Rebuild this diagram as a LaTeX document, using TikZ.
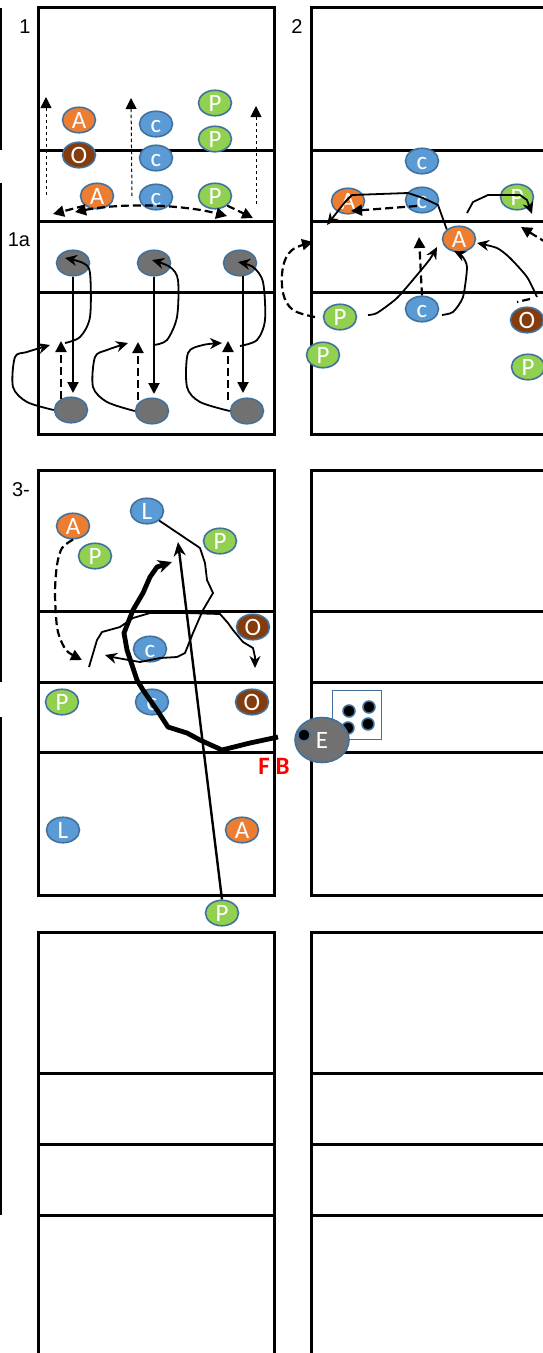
\documentclass[tikz,border=0pt]{standalone}
\usepackage{fontspec}
\setmainfont{Liberation Sans}
\newfontfamily\calfont{Carlito}
\usepackage{xcolor}
\usepackage{tikz}
\usetikzlibrary{
  arrows.meta,
  positioning,
  shapes.geometric
}
\definecolor{orng}{HTML}{ED7D31}
\definecolor{blu}{HTML}{5B9BD5}
\definecolor{grn}{HTML}{92D050}
\definecolor{brwn}{HTML}{843C0C}
\definecolor{gry}{HTML}{717171}
\definecolor{edge}{HTML}{41719C}

\begin{document}
\begin{tikzpicture}[x=1pt, y=-1pt,
  field/.style={line width=3pt},
  bar/.style={line width=2pt},
  lbl/.style={font=\fontsize{20}{20}\selectfont},
  player/.style={ellipse, draw=edge, line width=1.6pt, minimum width=33pt, minimum height=25.5pt,
    inner sep=0pt, text=white, text height=16pt, text depth=0pt, font=\calfont\fontsize{25}{25}\selectfont},
  dot/.style={circle, draw=edge, line width=1.5pt, fill=black, minimum size=12pt, inner sep=0pt},
  thindash/.style={line width=1pt, dash pattern=on 3.5pt off 2.5pt, -{Triangle[length=11pt,width=11pt]}},
  thickdash/.style={line width=2.2pt, dash pattern=on 8pt off 4pt, -{Triangle[length=11pt,width=11pt]}},
  tri/.style={line width=2pt, -{Triangle[length=11pt,width=11pt]}},
  run/.style={line width=1.8pt, line join=round, -{Stealth[length=12pt,width=11pt]}},
  heavy/.style={line width=4.8pt, line join=round, -{Stealth[length=14pt,width=13pt]}}]

  \clip (0,0) rectangle (543,1353);

  % fields
  \draw[field] (38,7) rectangle (274,434);
  \draw[field] (38,150) -- (274,150) (38,221) -- (274,221) (38,292) -- (274,292);
  \draw[field] (311,7) rectangle (560,434);
  \draw[field] (311,150) -- (560,150) (311,221) -- (560,221) (311,292) -- (560,292);
  \draw[field] (38,470) rectangle (274,895);
  \draw[field] (38,611) -- (274,611) (38,682) -- (274,682) (38,752) -- (274,752);
  \draw[field] (311,470) rectangle (560,895);
  \draw[field] (311,611) -- (560,611) (311,682) -- (560,682) (311,752) -- (560,752);
  \draw[field] (38,1360) -- (38,932) -- (274,932) -- (274,1360);
  \draw[field] (38,1073) -- (274,1073) (38,1144) -- (274,1144) (38,1215) -- (274,1215);
  \draw[field] (311,1360) -- (311,932) -- (560,932);
  \draw[field] (311,1073) -- (560,1073) (311,1144) -- (560,1144) (311,1215) -- (560,1215);

  \draw[bar] (1,8) -- (1,150);
  \draw[bar] (1,183) -- (1,682);
  \draw[bar] (1,717) -- (1,1215);

  \node[lbl] (n1) at (25,27) {1};
  \node[lbl] (n2) at (297,27) {2};
  \node[lbl] (n1a) at (19,240) {1a};
  \node[lbl] (n3) at (21,490) {3-};

  % drill 1
  \node[player, fill=orng] (a1) at (79,120) {A};
  \node[player, fill=brwn] (o1) at (79,155) {O};
  \node[player, fill=blu] (c1) at (156,124) {c};
  \node[player, fill=blu] (c2) at (156,158) {c};
  \node[player, fill=blu] (c3) at (156,197) {c};
  \node[player, fill=orng] (a2) at (97,196) {A};
  \node[player, fill=grn] (p1) at (215,103) {P};
  \node[player, fill=grn] (p2) at (215,139) {P};
  \node[player, fill=grn] (p3) at (215,196) {P};

  \coordinate (f1) at (46,97);
  \coordinate (f2) at (131,98);
  \coordinate (f3) at (256,106);
  \draw[thindash] (46,195) -- (f1);
  \draw[thindash] (132,196) -- (f2);
  \draw[thindash] (256,204) -- (f3);
  \draw[thickdash] (a2.south west) -- (53,214);
  \draw[thickdash, {Triangle[length=11pt,width=11pt]}-{Triangle[length=11pt,width=11pt]}]
    (75,212) .. controls (120,203) and (180,204) .. (227,216);
  \draw[thickdash] (p3.south east) -- (253,218);

  % drill 1a
  \node[player, fill=gry] (t1) at (73,263) {};
  \node[player, fill=gry] (t2) at (154,263) {};
  \node[player, fill=gry] (t3) at (240,263) {};
  \node[player, fill=gry] (b1) at (71,410) {};
  \node[player, fill=gry] (b2) at (152,411) {};
  \node[player, fill=gry] (b3) at (247,411) {};

  \draw[tri] (t1.south) -- (73,393);
  \draw[tri] (t2.south) -- (154,394);
  \draw[tri] (243,276) -- (243,393);
  \draw[thickdash] (61,399) -- (61,341);
  \draw[thickdash] (138,400) -- (138,342);
  \draw[thickdash] (228,400) -- (228,341);

  \draw[run] plot[smooth, tension=0.5] coordinates {(65,343) (80,337) (90,317) (90,273) (83,263) (65,258)};
  \draw[run] plot[smooth, tension=0.5] coordinates {(154,345) (167,340) (177,317) (178,280) (170,267) (152,260)};
  \draw[run] plot[smooth, tension=0.5] coordinates {(240,346) (257,340) (265,320) (263,282) (253,267) (238,262)};
  \draw[run] plot[smooth, tension=0.5] coordinates {(b1.west) (27,402) (13,387) (15,357) (27,352) (50,345)};
  \draw[run] plot[smooth, tension=0.5] coordinates {(b2.west) (107,402) (93,387) (95,357) (107,350) (128,343)};
  \draw[run] plot[smooth, tension=0.5] coordinates {(b3.west) (200,402) (187,387) (188,353) (203,345) (222,343)};

  % drill 2
  \node[player, fill=blu] (c4) at (422,161) {c};
  \node[player, fill=blu] (c5) at (422,200) {c};
  \node[player, fill=orng] (a3) at (348,201) {A};
  \node[player, fill=grn] (p4) at (517,197) {P};
  \node[player, fill=orng] (a4) at (459,239) {A};
  \node[player, fill=blu] (c6) at (422,309) {c};
  \node[player, fill=grn] (p5) at (340,317) {P};
  \node[player, fill=grn] (p6) at (323,355) {P};
  \node[player, fill=brwn] (o2) at (527,320) {O};
  \node[player, fill=grn] (p7) at (528,367) {P};

  \draw[run] (a4.north west) -- (438,205) -- (423,198) -- (408,193) -- (352,195) -- (345,202) -- (327,225);
  \draw[thickdash] (417,206) -- (351,211);
  \draw[run] (467,213) -- (473,202) -- (488,195) -- (520,195) -- (527,200) -- (532,214);
  \draw[thickdash] (547,243) -- (521,227);
  \draw[thickdash] (c6.north) -- (419,237);
  \draw[run] plot[smooth, tension=0.4] coordinates {(368,315) (377,313) (397,298) (417,275) (430,259) (437,247)};
  \draw[run] plot[smooth, tension=0.4] coordinates {(442,315) (453,312) (463,297) (467,267) (462,256) (454,251)};
  \draw[run] plot[smooth, tension=0.4] coordinates {(537,297) (527,277) (510,258) (497,248) (477,243)};
  \draw[line width=2.2pt, dash pattern=on 8pt off 4pt] (530,299) -- (517,302);
  \draw[thickdash] plot[smooth, tension=0.6] coordinates {(315,317) (293,310) (283,293) (283,267) (292,250) (313,242)};

  % drill 3
  \node[player, fill=blu] (l1) at (147,511) {L};
  \node[player, fill=orng] (a5) at (73,526) {A};
  \node[player, fill=grn] (p8) at (95,556) {P};
  \node[player, fill=grn] (p9) at (220,541) {P};
  \node[player, fill=brwn] (o3) at (253,627) {O};
  \node[player, fill=blu] (c7) at (150,649) {c};
  \node[player, fill=grn] (p10) at (62,702) {P};
  \node[player, fill=blu] (c8) at (152,702) {c};
  \node[player, fill=brwn] (o4) at (252,702) {O};
  \node[player, fill=blu] (l2) at (63,830) {L};
  \node[player, fill=orng] (a6) at (242,830) {A};
  \node[player, fill=grn] (p11) at (222,913) {P};

  \node[draw=edge, line width=1.8pt, fill=white, minimum size=49pt, inner sep=0pt] (pod) at (357,715) {};
  \node[dot] (d1) at (349,711) {};
  \node[dot] (d2) at (369,707) {};
  \node[dot] (d3) at (348,728) {};
  \node[dot] (d4) at (368,724) {};
  \node[player, fill=gry, minimum width=54pt, minimum height=45pt] (e) at (322,740) {E};
  \node[dot] (d5) at (304,735) {};
  \node[text=red, font=\calfont\bfseries\fontsize{25}{25}\selectfont] (fb) at (274,766) {F B};

  \draw[thickdash] plot[smooth, tension=0.5] coordinates {(a5.south) (62,548) (57,565) (55,593) (57,627) (62,643) (68,652) (82,660)};
  \draw[run] (l1.south east) -- (200,548) -- (205,563) -- (207,580) -- (213,593) -- (203,610) -- (193,633)
    -- (185,653) -- (177,657) -- (160,658) -- (140,662) -- (123,659) -- (112,657) -- (105,655);
  \draw[run] (89,667) -- (97,640) -- (102,632) -- (120,627) -- (133,618) -- (150,613) -- (187,613) -- (220,614)
    -- (228,623) -- (233,630) -- (243,642) -- (253,648) -- (255,657) -- (255,668);
  \draw[heavy] (278,737) -- (250,743) -- (222,750) -- (200,740) -- (187,733) -- (168,727) -- (157,710) -- (143,690)
    -- (137,680) -- (127,650) -- (124,633) -- (133,610) -- (143,593) -- (150,577) -- (157,567) -- (172,562);
  \draw[run, line width=2.4pt, -{Stealth[length=14pt,width=12pt]}] (p11.north) -- (178,542);
\end{tikzpicture}
\end{document}
